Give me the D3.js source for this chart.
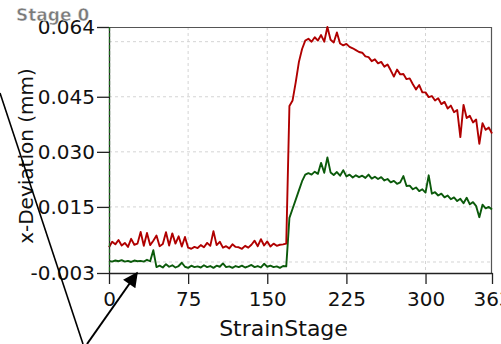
<!DOCTYPE html>
<html>
<head>
<meta charset="utf-8">
<script src="https://cdn.jsdelivr.net/npm/d3@7"></script>
<style>
  body { margin: 0; background: #fff; }
  svg { display: block; font-family: "DejaVu Sans", sans-serif; }
</style>
</head>
<body>
<svg id="chart" width="501" height="344"></svg>
<script>
// DATA (x-deviation in mm, sampled every 3 strain stages from 0 to 363)
const stages = d3.range(0, 364, 3);

const redSeries = [
  0.0040, 0.0055, 0.0048, 0.0060, 0.0045, 0.0052, 0.0041, 0.0063, 0.0047, 0.0050,
  0.0082, 0.0044, 0.0079, 0.0046, 0.0058, 0.0072, 0.0043, 0.0049, 0.0081, 0.0045,
  0.0078, 0.0050, 0.0070, 0.0042, 0.0068, 0.0039, 0.0036, 0.0041, 0.0038, 0.0046,
  0.0040, 0.0052, 0.0044, 0.0084, 0.0046, 0.0055, 0.0039, 0.0043, 0.0037, 0.0048,
  0.0041, 0.0040, 0.0036, 0.0044, 0.0039, 0.0047, 0.0058, 0.0043, 0.0062, 0.0045,
  0.0056, 0.0042, 0.0050, 0.0044, 0.0047, 0.0048, 0.0050, 0.0425, 0.0440, 0.0490,
  0.0545, 0.0580, 0.0603, 0.0608, 0.0600, 0.0612, 0.0603, 0.0618, 0.0600, 0.0640,
  0.0605, 0.0598, 0.0625, 0.0595, 0.0590, 0.0594, 0.0586, 0.0582, 0.0577, 0.0572,
  0.0570, 0.0560, 0.0558, 0.0547, 0.0552, 0.0541, 0.0545, 0.0532, 0.0538, 0.0522,
  0.0505, 0.0524, 0.0511, 0.0512, 0.0498, 0.0500, 0.0484, 0.0470, 0.0482, 0.0462,
  0.0462, 0.0449, 0.0452, 0.0440, 0.0446, 0.0430, 0.0436, 0.0418, 0.0426, 0.0408,
  0.0414, 0.0340, 0.0428, 0.0392, 0.0398, 0.0380, 0.0388, 0.0322, 0.0378, 0.0360,
  0.0366, 0.0350
];

const greenSeries = [
  0.0003, 0.0001, 0.0004, 0.0002, 0.0005, 0.0001, 0.0003, 0.0000, 0.0004, 0.0002,
  0.0003, 0.0001, 0.0006, 0.0002, 0.0032, -0.0014, -0.0010, -0.0015, -0.0006, -0.0013,
  -0.0009, -0.0015, -0.0011, -0.0002, -0.0013, -0.0016, -0.0010, -0.0014, -0.0012, -0.0015,
  -0.0009, -0.0014, -0.0011, -0.0016, -0.0010, -0.0013, -0.0004, -0.0014, -0.0012, -0.0016,
  -0.0011, -0.0014, -0.0010, -0.0015, -0.0012, -0.0008, -0.0014, -0.0011, -0.0015, -0.0005,
  -0.0013, -0.0010, -0.0014, -0.0012, -0.0016, -0.0011, -0.0012, 0.0120, 0.0145, 0.0170,
  0.0195, 0.0220, 0.0238, 0.0242, 0.0238, 0.0246, 0.0240, 0.0270, 0.0243, 0.0285,
  0.0244, 0.0237, 0.0245, 0.0235, 0.0250, 0.0233, 0.0238, 0.0230, 0.0236, 0.0231,
  0.0235, 0.0229, 0.0238, 0.0227, 0.0232, 0.0226, 0.0231, 0.0222, 0.0226, 0.0217,
  0.0221, 0.0213, 0.0217, 0.0234, 0.0207, 0.0208, 0.0198, 0.0203, 0.0193, 0.0198,
  0.0189, 0.0236, 0.0186, 0.0190, 0.0181, 0.0186, 0.0176, 0.0181, 0.0171, 0.0176,
  0.0166, 0.0172, 0.0160, 0.0175, 0.0157, 0.0163, 0.0152, 0.0122, 0.0156, 0.0146,
  0.0150, 0.0143
];

const xTicks = [0, 75, 150, 225, 300, 363];
const yTicks = [0.064, 0.045, 0.030, 0.015, -0.003];
const xGrid = [75, 150, 225, 300];
const yGrid = [0.06, 0.045, 0.03, 0.015, 0];

// CANVAS SETUP
const svg = d3.select("#chart");
const margin = { top: 27, right: 9, bottom: 71, left: 109 };
const width = +svg.attr("width") - margin.left - margin.right,
  height = +svg.attr("height") - margin.top - margin.bottom;

const x = d3.scaleLinear().domain([0, 363]).range([0, width]);
const y = d3.scaleLinear().domain([-0.003, 0.064]).range([height, 0]);

const g = svg.append("g").attr("transform", `translate(${margin.left},${margin.top})`);

// grid
g.append("g")
  .selectAll("line")
  .data(xGrid)
  .join("line")
  .attr("x1", (d) => x(d))
  .attr("x2", (d) => x(d))
  .attr("y1", 0)
  .attr("y2", height)
  .attr("stroke", "#d4d4d4")
  .attr("stroke-dasharray", "3,3");

g.append("g")
  .selectAll("line")
  .data(yGrid)
  .join("line")
  .attr("x1", 0)
  .attr("x2", width)
  .attr("y1", (d) => y(d))
  .attr("y2", (d) => y(d))
  .attr("stroke", "#d4d4d4")
  .attr("stroke-dasharray", "3,3");

// frame top/right
g.append("path")
  .attr("d", `M0,0.5H${width - 0.5}V${height}`)
  .attr("fill", "none")
  .attr("stroke", "#555")
  .attr("stroke-width", 1.2);

// series
const line = (vals) =>
  d3.line()
    .x((d, i) => x(stages[i]))
    .y((d) => y(d))(vals);

g.append("path")
  .attr("d", line(greenSeries))
  .attr("fill", "none")
  .attr("stroke", "#0b5a0b")
  .attr("stroke-width", 1.9)
  .attr("stroke-linejoin", "round");

g.append("path")
  .attr("d", line(redSeries))
  .attr("fill", "none")
  .attr("stroke", "#b00000")
  .attr("stroke-width", 1.9)
  .attr("stroke-linejoin", "round");

// axes
const xAxis = g.append("g")
  .attr("transform", `translate(0,${height})`)
  .call(d3.axisBottom(x).tickValues(xTicks).tickFormat(d3.format("d")).tickSize(11).tickSizeOuter(0));

const yAxis = g.append("g")
  .call(d3.axisLeft(y).tickValues(yTicks).tickFormat((d) => d.toFixed(3)).tickSize(12).tickSizeOuter(0));

[xAxis, yAxis].forEach((a) => {
  a.selectAll("path, line").attr("stroke", "#222").attr("stroke-width", 1.3);
  a.selectAll("text").attr("fill", "#111").style("font-size", "20px").style("font-family", "DejaVu Sans");
});
xAxis.selectAll("text").attr("dy", "0.95em");
yAxis.selectAll("text").attr("x", -14);

// green dashed trace on the left axis
g.append("line")
  .attr("x1", 0.5).attr("x2", 0.5)
  .attr("y1", 0).attr("y2", height)
  .attr("stroke", "#1d6b1d")
  .attr("stroke-width", 1.2)
  .attr("stroke-dasharray", "4,2");

// axis titles
svg.append("text")
  .attr("x", margin.left + width / 2 - 17)
  .attr("y", 336)
  .attr("text-anchor", "middle")
  .attr("fill", "#111")
  .style("font-size", "22px")
  .text("StrainStage");

svg.append("text")
  .attr("transform", `translate(33,156) rotate(-90)`)
  .attr("text-anchor", "middle")
  .attr("fill", "#111")
  .style("font-size", "20px")
  .text("x-Deviation (mm)");

// overlay label
svg.append("text")
  .attr("x", 16)
  .attr("y", 21)
  .attr("fill", "#7a7a7a")
  .attr("stroke", "#fff")
  .attr("stroke-width", 0.5)
  .style("font-size", "17px")
  .style("font-weight", "bold")
  .text("Stage 0");

// annotation lines
svg.append("defs").append("marker")
  .attr("id", "arrow")
  .attr("viewBox", "0 0 10 10")
  .attr("refX", 9).attr("refY", 5)
  .attr("markerWidth", 18).attr("markerHeight", 15)
  .attr("markerUnits", "userSpaceOnUse")
  .attr("orient", "auto")
  .append("path")
  .attr("d", "M0,0L10,5L0,10Z")
  .attr("fill", "#000");

svg.append("line")
  .attr("x1", 0).attr("y1", 93)
  .attr("x2", 83).attr("y2", 344)
  .attr("stroke", "#000")
  .attr("stroke-width", 1.6);

svg.append("line")
  .attr("x1", 87).attr("y1", 344)
  .attr("x2", 137).attr("y2", 273)
  .attr("stroke", "#000")
  .attr("stroke-width", 2)
  .attr("marker-end", "url(#arrow)");
</script>
</body>
</html>
